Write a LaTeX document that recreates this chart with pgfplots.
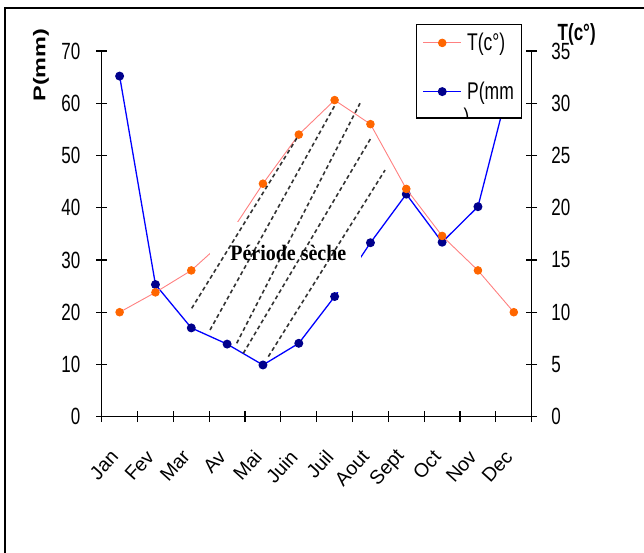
\documentclass[border=0pt]{standalone}
\usepackage{fontspec}
\setmainfont{Liberation Sans}
\newfontfamily\serifbf{Liberation Serif}
\usepackage{graphicx}
\usepackage{pgfplots}
\usepackage{pgfplotstable}
\pgfplotsset{compat=1.18}
\definecolor{tline}{RGB}{255,128,128}
\definecolor{tmark}{RGB}{255,102,0}
\definecolor{pline}{RGB}{0,0,255}
\definecolor{pmark}{RGB}{0,0,140}

\pgfplotstableread{
x T P
0 10 65.2
1 11.9 25.3
2 14 17
3 17.1 13.9
4 22.3 9.9
5 27 14.05
6 30.3 23
7 28 33.3
8 21.8 42.6
9 17.3 33.4
10 14 40.2
11 10 67
}\datatable

\tikzset{
  tstyle/.style={color=tline, line width=0.9pt, mark=*, mark size=3.8pt, mark options={draw=tmark, fill=tmark, solid}},
  pstyle/.style={color=pline, line width=1.3pt, mark=*, mark size=3.8pt, mark options={draw=pmark, fill=pmark, solid}},
  hatch/.style={black!80, line width=1.6pt, dash pattern=on 4pt off 3pt},
}
\pgfplotsset{
  common/.style={
    scale only axis, width=430pt, height=365.7pt,
    at={(101.7pt,-416.7pt)}, anchor=south west,
    xmin=-0.5, xmax=11.5,
    clip marker paths=true,
    /pgf/number format/assume math mode=true,
    tick align=center, major tick length=11pt, minor tick length=11pt,
    axis line style={line width=1.2pt, black, -},
    tick style={black, line width=1.2pt},
  },
}

\begin{document}
\begin{tikzpicture}
\useasboundingbox (0pt,0pt) rectangle (644pt,-553pt);
\draw[line width=2.3pt] (5.3pt,-553pt) -- (5.3pt,-8.3pt) -- (644pt,-8.3pt);

\begin{axis}[common,
  ymin=0, ymax=70,
  axis x line*=bottom, axis y line*=left,
  xtick={0,...,11},
  xticklabels={Jan,Fev,Mar,Av,Mai,Juin,Juil,Aout,Sept,Oct,Nov,Dec},
  minor xtick={-0.5,0.5,...,11.5},
  major x tick style={draw=none},
  ytick={0,10,...,70},
  yticklabel style={font=\fontsize{17}{17}\selectfont, anchor=east, inner sep=0pt, xshift=-15.7pt, yscale=1.38},
  xticklabel style={font=\fontsize{19.5}{19.5}\selectfont, inner sep=0pt, anchor=east, xshift=-5pt, yshift=-31pt, rotate=48},
]
\addplot[pstyle] table[x=x,y=P]{\datatable};
\end{axis}

\begin{axis}[common,
  ymin=0, ymax=35,
  axis y line*=right, axis x line=none,
  xtick=\empty,
  ytick={0,5,...,35},
  yticklabel style={font=\fontsize{17}{17}\selectfont, anchor=west, inner sep=0pt, xshift=14pt, yscale=1.38},
  legend image code/.code={\draw[mark repeat=2, mark phase=2, #1] plot coordinates {(0pt,0pt) (19pt,0pt) (38pt,0pt)};},
  legend style={at={(0.7302,1.0738)}, anchor=north west, draw=black, line width=1.2pt, fill=white,
    inner xsep=6.3pt, inner ysep=0pt, row sep=4.1pt, column sep=3.3pt,
    font=\fontsize{17.5}{20}\selectfont, cells={anchor=west, inner sep=0pt}},
]
\addplot[tstyle] table[x=x,y=T]{\datatable};
\addlegendentry[minimum height=36.6pt, text width=46pt]{\scalebox{1}[1.38]{T(c°)}}
\addlegendimage{pstyle}
\addlegendentry[minimum height=52.6pt, text width=46pt]{\scalebox{1}[1.38]{P(mm}}
\fill[white] (axis cs:2.523,11.96) rectangle (axis cs:6.737,18.66);
\draw[hatch] (axis cs:2.012,10.375) -- (axis cs:4.971,26.8);
\draw[hatch] (axis cs:2.523,8.3) -- (axis cs:6.012,29.83);
\draw[hatch] (axis cs:3.268,7.03) -- (axis cs:6.709,30.0);
\draw[hatch] (axis cs:3.452,6.07) -- (axis cs:7.036,26.8);
\draw[hatch] (axis cs:4.150,5.75) -- (axis cs:7.407,23.6);
\node[font=\serifbf\bfseries\fontsize{20}{20}\selectfont, yscale=1.1, inner sep=0pt] at (axis cs:4.708,15.64) {Période sèche};
\end{axis}

\begin{scope}
\clip (415.7pt,-24pt) rectangle (516pt,-117.3pt);
\node[anchor=north west, inner sep=0pt, font=\fontsize{17.5}{20}\selectfont, yscale=1.38] at (463.3pt,-108pt) {)};
\end{scope}

\node[font=\bfseries\fontsize{17}{17}\selectfont, yscale=1.38, rotate=90, inner sep=0pt] at (41pt,-65pt) {P(mm)};
\node[font=\bfseries\fontsize{17}{17}\selectfont, yscale=1.38, inner sep=0pt] at (576.7pt,-34.7pt) {T(c°)};
\end{tikzpicture}
\end{document}
